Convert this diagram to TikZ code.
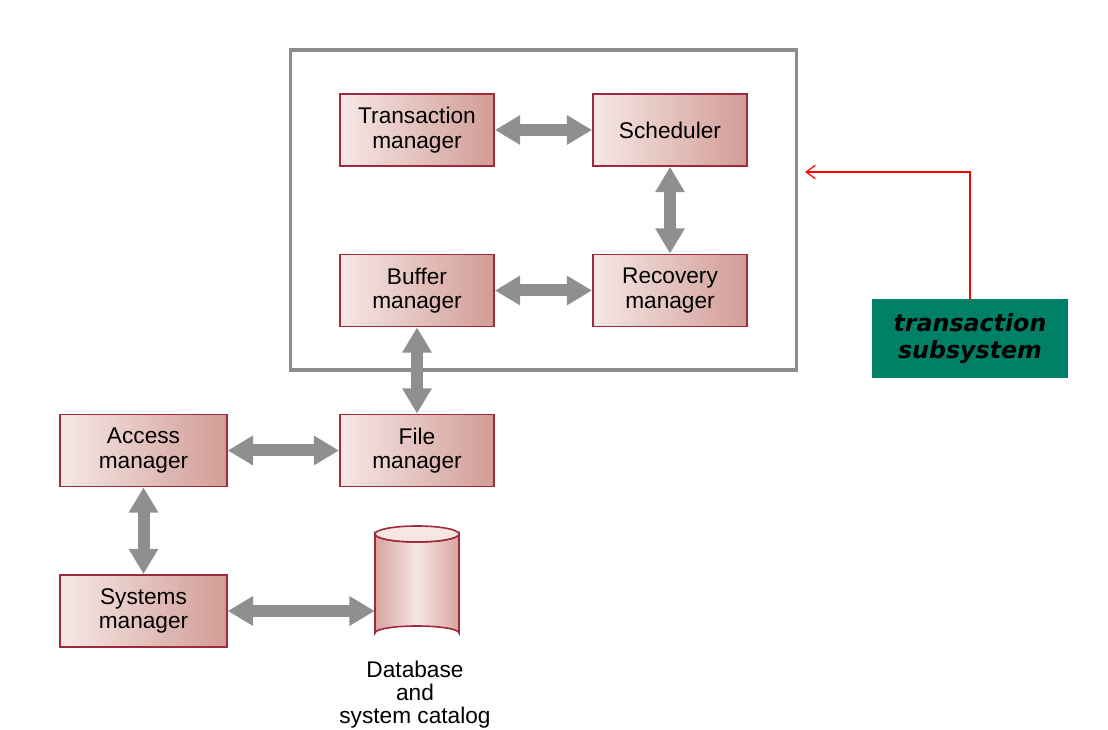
\documentclass[tikz,border=0pt]{standalone}
\usepackage{fontspec}
\setmainfont{Liberation Sans}
\newfontfamily\greenfont{DejaVu Sans}
\usetikzlibrary{arrows.meta}
\definecolor{boxL}{HTML}{F6E8E6}
\definecolor{boxR}{HTML}{D29C95}
\definecolor{boxD}{HTML}{9E2A3C}
\definecolor{arrG}{HTML}{8F8F8F}
\definecolor{frameG}{HTML}{8C8C8C}
\definecolor{tsGreen}{HTML}{008066}
\definecolor{cylL}{HTML}{D8A49E}
\definecolor{cylM}{HTML}{F6E6E4}
\tikzset{
  box/.style={draw=boxD, line width=1.3pt, left color=boxL, right color=boxR,
    minimum width=115.5pt, minimum height=54pt, inner sep=0pt, align=center,
    font=\fontsize{17}{18.5}\selectfont},
  widebox/.style={box, minimum width=125pt},
  dbl/.style={draw=arrG, line width=9pt,
    {Triangle[width=21pt,length=19pt]}-{Triangle[width=21pt,length=19pt]}},
}
\begin{document}
\begin{tikzpicture}[x=0.75pt,y=-0.75pt]
\useasboundingbox (0,0) rectangle (1108,730);
% frame
\node[draw=frameG, line width=2.3pt, minimum width=380pt, minimum height=240pt, inner sep=0pt] (frame) at (543.5,210) {};
% boxes
\node[box] (tm) at (417,130) {Transaction\\manager};
\node[box] (sch) at (670,130) {Scheduler};
\node[box] (buf) at (417,290.5) {Buffer\\manager};
\node[box] (rec) at (670,290.5) {Recovery\\manager};
\node[widebox] (acc) at (143.5,450.5) {Access\\manager};
\node[box] (file) at (417,450.5) {File\\manager};
\node[widebox] (sys) at (143.5,611) {Systems\\manager};
% cylinder
\path[left color=cylL, right color=cylL, middle color=cylM, draw=boxD, line width=1.2pt]
  (375,534) -- (375,633) arc[start angle=180, end angle=360, x radius=42, y radius=7]
  -- (459,534) arc[start angle=0, end angle=180, x radius=42, y radius=8] -- cycle;
\path[fill=cylM, draw=boxD, line width=1.2pt] (417,534) ellipse[x radius=42, y radius=8];
\node[inner sep=0pt, minimum width=63pt, minimum height=80pt] (db) at (417,583) {};
\node[align=center, font=\fontsize{17}{17.3}\selectfont, anchor=north] (dbtext) at (415,656) {Database\\and\\system catalog};
% arrows
\draw[dbl] (tm.east) -- (sch.west);
\draw[dbl] (sch.south) -- (rec.north);
\draw[dbl] (buf.east) -- (rec.west);
\draw[dbl] (buf.south) -- (file.north);
\draw[dbl] (acc.east) -- (file.west);
\draw[dbl] (acc.south) -- (sys.north);
\draw[dbl] (sys.east) -- (sys.east -| db.west);
% transaction subsystem
\node[fill=tsGreen, minimum width=147pt, minimum height=59.5pt, inner sep=0pt, align=center,
  font=\greenfont\fontsize{17.8}{20.5}\selectfont\bfseries\itshape] (ts) at (970,338.5) {transaction\\subsystem};
\coordinate (tgt) at (805,172);
\draw[red, line width=0.9pt, -{Straight Barb[length=7pt,width=10pt]}] (ts.north) |- (tgt);
\end{tikzpicture}
\end{document}
